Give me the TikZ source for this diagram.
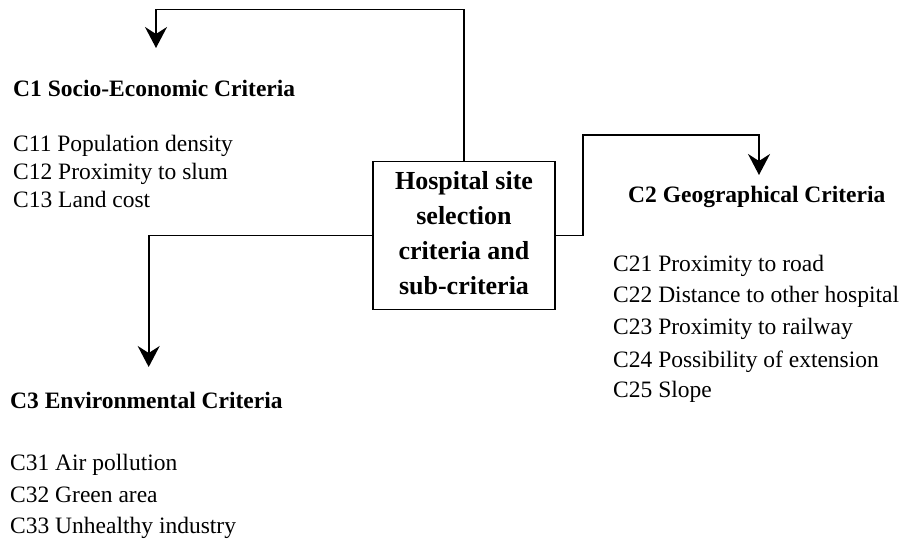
\documentclass[tikz,border=0pt]{standalone}
\usepackage{fontspec}
\setmainfont{Liberation Serif}
\usetikzlibrary{arrows.meta}
\begin{document}
\begin{tikzpicture}[x=1pt,y=-1pt,
  conn/.style={line width=1.8pt, -{Stealth[length=21pt,width=22pt,inset=7pt]}},
  head/.style={anchor=base west, inner sep=0pt, font=\fontsize{23.5}{28}\selectfont\bfseries},
  item/.style={anchor=base west, inner sep=0pt, font=\fontsize{23.5}{28}\selectfont},
  mainbox/.style={draw, line width=1.8pt, minimum width=182pt, minimum height=148pt, align=center,
    font=\fontsize{26}{34.7}\selectfont\bfseries, inner sep=0pt, text depth=5pt}]
\useasboundingbox (0,0) rectangle (914,540);
\node[mainbox] (box) at (464,235.5) {Hospital site\\selection\\criteria and\\sub-criteria};

\coordinate (c1bend) at (464,9.5);
\coordinate (c1tip) at (156,48);
\coordinate (c2bend) at (583,135);
\coordinate (c2tip) at (759,175);
\coordinate (c3tip) at (148.7,367);

\draw[conn] (box.north) -- (c1bend) -| (c1tip);
\draw[conn] (box.east) -| (c2bend) -| (c2tip);
\draw[conn] (box.west) -| (c3tip);

\node[head] (c1) at (13,97) {C1 Socio-Economic Criteria};
\node[item] (c11) at (13,152) {C11 Population density};
\node[item] (c12) at (13,180) {C12 Proximity to slum};
\node[item] (c13) at (13,208) {C13 Land cost};

\node[head] (c2) at (628,203) {C2 Geographical Criteria};
\node[item] (c21) at (613,272) {C21 Proximity to road};
\node[item] (c22) at (613,303) {C22 Distance to other hospital};
\node[item] (c23) at (613,335) {C23 Proximity to railway};
\node[item] (c24) at (613,367) {C24 Possibility of extension};
\node[item] (c25) at (613,398) {C25 Slope};

\node[head] (c3) at (10,408) {C3 Environmental Criteria};
\node[item] (c31) at (10,470) {C31 Air pollution};
\node[item] (c32) at (10,502) {C32 Green area};
\node[item] (c33) at (10,533) {C33 Unhealthy industry};
\end{tikzpicture}
\end{document}
